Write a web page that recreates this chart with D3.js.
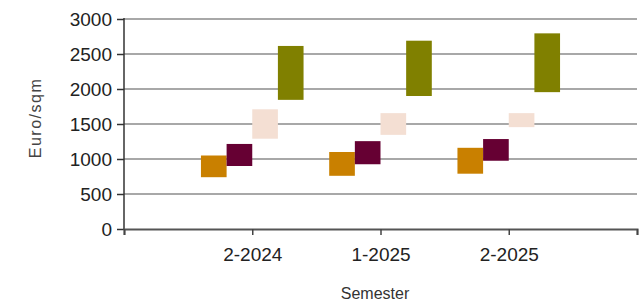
<!DOCTYPE html>
<html>
<head>
<meta charset="utf-8">
<script src="https://cdn.jsdelivr.net/npm/d3@7"></script>
<style>
  body { margin: 0; background: #fff; }
  svg { display: block; }
</style>
</head>
<body>
<div class="chart"></div>
<script>
const semesters = ['2-2024', '1-2025', '2-2025'];
const yTicks = [0, 500, 1000, 1500, 2000, 2500, 3000];

// floating bars: low / high per semester
const orangeLow = [740, 760, 790];
const orangeHigh = [1050, 1100, 1160];
const purpleLow = [900, 925, 975];
const purpleHigh = [1215, 1255, 1285];
const pinkLow = [1290, 1345, 1455];
const pinkHigh = [1710, 1655, 1655];
const greenLow = [1845, 1900, 1955];
const greenHigh = [2615, 2690, 2795];

const series = [
  {low: orangeLow, high: orangeHigh, color: '#c98000'},
  {low: purpleLow, high: purpleHigh, color: '#660033'},
  {low: pinkLow, high: pinkHigh, color: '#f4dfd3'},
  {low: greenLow, high: greenHigh, color: '#808000'}
];

const font = '"Liberation Sans", Arial, sans-serif';
const w = 641, h = 306;

const svg = d3.select('div.chart')
  .append('svg')
  .attr('width', w)
  .attr('height', h)
  .attr('font-family', font);

// 4 slots on the axis, semesters sit on slots 1..3
const xScale = d3.scaleLinear().domain([0, 4]).range([124, 637]);
const yScale = d3.scaleLinear().domain([0, 3000]).range([229, 19]);

// grid
svg.append('g')
  .selectAll('line')
  .data(yTicks.filter(d => d > 0))
  .enter()
  .append('line')
  .attr('x1', xScale(0))
  .attr('x2', xScale(4))
  .attr('y1', d => yScale(d))
  .attr('y2', d => yScale(d))
  .attr('stroke', '#a8a8a8')
  .attr('stroke-width', 2);

// bars
const barW = xScale(0.2) - xScale(0);
series.forEach((s, si) => {
  svg.append('g')
    .selectAll('rect')
    .data(semesters)
    .enter()
    .append('rect')
    .attr('x', (d, i) => xScale(i + 1 - 0.4 + si * 0.2))
    .attr('width', barW)
    .attr('y', (d, i) => yScale(s.high[i]))
    .attr('height', (d, i) => yScale(s.low[i]) - yScale(s.high[i]))
    .attr('fill', s.color);
});

// y axis
const yAxis = d3.axisLeft(yScale)
  .tickValues(yTicks)
  .tickSize(7)
  .tickPadding(5)
  .tickFormat(d3.format('d'));

const gy = svg.append('g')
  .attr('transform', 'translate(' + xScale(0) + ',0)')
  .call(yAxis)
  .attr('font-family', font);
gy.select('.domain').remove();
gy.append('line')
  .attr('x1', 0).attr('x2', 0)
  .attr('y1', yScale(3000) - 1).attr('y2', yScale(0))
  .attr('stroke', '#333').attr('stroke-width', 1.5);
gy.selectAll('.tick line').attr('stroke', '#333').attr('stroke-width', 1.5);
gy.selectAll('.tick text')
  .attr('fill', '#222')
  .style('font-size', '19px');

// x axis
const xAxis = d3.axisBottom(xScale)
  .tickValues([0, 1, 2, 3, 4])
  .tickSize(6)
  .tickPadding(13)
  .tickFormat(d => semesters[d - 1] || '');

const gx = svg.append('g')
  .attr('transform', 'translate(0,' + yScale(0) + ')')
  .call(xAxis)
  .attr('font-family', font);
gx.select('.domain').attr('stroke', '#555').attr('stroke-width', 2);
gx.selectAll('.tick line').attr('stroke', '#444').attr('stroke-width', 1.5);
gx.selectAll('.tick text')
  .attr('fill', '#222')
  .style('font-size', '19px');

// axis titles
svg.append('text')
  .text('Semester')
  .attr('x', 375)
  .attr('y', 299)
  .attr('text-anchor', 'middle')
  .attr('fill', '#333')
  .style('font-size', '16px');

svg.append('text')
  .text('Euro/sqm')
  .attr('transform', 'translate(41,118) rotate(-90)')
  .attr('text-anchor', 'middle')
  .attr('fill', '#444')
  .style('font-size', '16px')
  .style('letter-spacing', '1.5px');
</script>
</body>
</html>
